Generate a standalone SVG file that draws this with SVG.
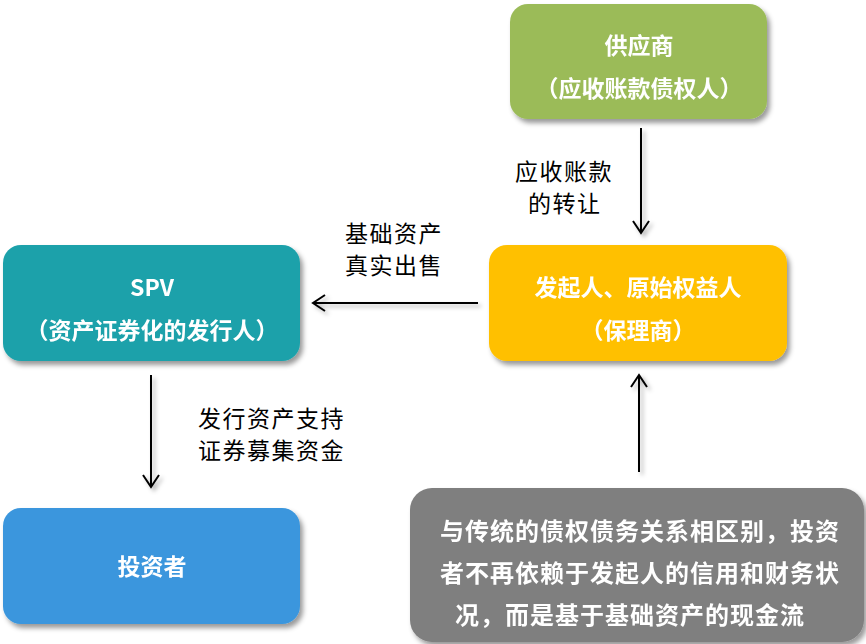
<svg xmlns="http://www.w3.org/2000/svg" width="866" height="644" viewBox="0 0 866 644">
<style>
.bt{font-family:"Noto Sans CJK SC","Noto Sans",sans-serif;font-size:23px;fill:#fff;font-weight:bold;text-anchor:middle;dominant-baseline:central}
.lb{font-family:"Noto Sans CJK SC","Noto Sans",sans-serif;font-size:23px;fill:#000;letter-spacing:1.5px;dominant-baseline:central}
.gt{font-family:"Noto Sans CJK SC","Noto Sans",sans-serif;font-size:24px;fill:#fff;font-weight:bold;letter-spacing:1px;dominant-baseline:central}
.ln{stroke:#000;stroke-width:2;fill:none}
</style>
<defs>
<filter id="sh" x="-10%" y="-10%" width="130%" height="140%">
<feDropShadow dx="3" dy="4" stdDeviation="2.5" flood-color="#000" flood-opacity="0.4"/>
</filter>
<filter id="ash" x="-50%" y="-20%" width="300%" height="150%">
<feDropShadow dx="3" dy="3" stdDeviation="2" flood-color="#000" flood-opacity="0.3"/>
</filter>
<marker id="ah" viewBox="0 0 20 20" refX="17" refY="10" markerWidth="20" markerHeight="20" markerUnits="userSpaceOnUse" orient="auto">
<path d="M5,2 L17,10 L5,18" fill="none" stroke="#000" stroke-width="2"/>
</marker>
</defs>
<rect width="866" height="644" fill="#fff"/>
<g id="supplier" filter="url(#sh)">
<rect x="510" y="4" width="257" height="115" rx="18" fill="#9BBB59"/>
<text class="bt" x="639" y="44">供应商</text>
<text class="bt" x="639" y="87">（应收账款债权人）</text>
</g>
<g id="spv" filter="url(#sh)">
<rect x="3" y="245" width="297" height="116" rx="18" fill="#1BA1AA"/>
<text class="bt" x="152" y="286">SPV</text>
<text class="bt" x="152" y="329">（资产证券化的发行人）</text>
</g>
<g id="originator" filter="url(#sh)">
<rect x="489" y="245" width="298" height="116" rx="18" fill="#FFC000"/>
<text class="bt" x="638" y="286">发起人、原始权益人</text>
<text class="bt" x="638" y="329">（保理商）</text>
</g>
<g id="investor" filter="url(#sh)">
<rect x="3" y="508" width="297" height="116" rx="18" fill="#3A96DD"/>
<text class="bt" x="152" y="565">投资者</text>
</g>
<g id="note" filter="url(#sh)">
<rect x="410" y="488" width="454" height="154" rx="22" fill="#7F7F7F"/>
<text class="gt" x="440" y="529">与传统的债权债务关系相区别，投资</text>
<text class="gt" x="440" y="571">者不再依赖于发起人的信用和财务状</text>
<text class="gt" x="455" y="613">况，而是基于基础资产的现金流</text>
</g>
<g id="connectors">
<g filter="url(#ash)">
<line class="ln" x1="641" y1="128" x2="641" y2="233" marker-end="url(#ah)"/>
<line class="ln" x1="478" y1="303" x2="313" y2="303" marker-end="url(#ah)"/>
<line class="ln" x1="151" y1="375" x2="151" y2="487" marker-end="url(#ah)"/>
<line class="ln" x1="639" y1="472" x2="639" y2="375" marker-end="url(#ah)"/>
</g>
<text class="lb"><tspan x="515" y="170">应收账款</tspan><tspan x="528" y="202">的转让</tspan></text>
<text class="lb"><tspan x="345" y="232">基础资产</tspan><tspan x="345" y="264">真实出售</tspan></text>
<text class="lb"><tspan x="198" y="417">发行资产支持</tspan><tspan x="198" y="449">证券募集资金</tspan></text>
</g>
</svg>
